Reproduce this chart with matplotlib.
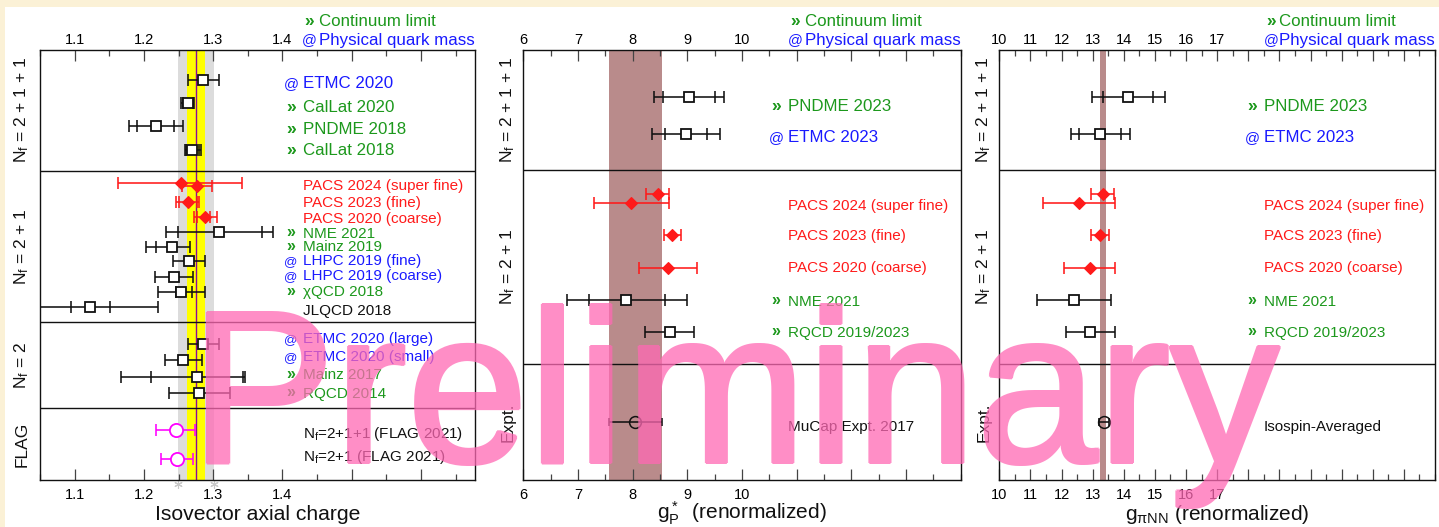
import numpy as np
import matplotlib
matplotlib.use("Agg")
import matplotlib.pyplot as plt
import matplotlib.transforms as mtransforms
from matplotlib.colors import to_rgb
from matplotlib.patches import Rectangle
from matplotlib.ticker import FixedLocator, FixedFormatter, MultipleLocator

plt.rcParams['font.family'] = ['Liberation Sans', 'DejaVu Sans']
plt.rcParams['mathtext.fontset'] = 'custom'
plt.rcParams['mathtext.rm'] = 'Liberation Sans'
plt.rcParams['mathtext.it'] = 'Liberation Sans:italic'
plt.rcParams['mathtext.sf'] = 'Liberation Sans'

# ---------------------------------------------------------------- data
# Isovector axial charge g_A
GA_VAL    = [1.286, 1.264, 1.218, 1.270, 1.253, 1.277, 1.264, 1.288, 1.309, 1.241,
             1.265, 1.243, 1.253, 1.122, 1.286, 1.257, 1.277, 1.280, 1.246, 1.248]
GA_LO     = [1.263, 1.254, 1.178, 1.259, 1.163, 1.255, 1.247, 1.273, 1.232, 1.203,
             1.242, 1.216, 1.220, 1.020, 1.263, 1.231, 1.167, 1.236, 1.218, 1.225]
GA_HI     = [1.308, 1.272, 1.257, 1.282, 1.342, 1.298, 1.280, 1.305, 1.387, 1.266,
             1.288, 1.271, 1.288, 1.221, 1.308, 1.284, 1.346, 1.324, 1.274, 1.271]
GA_STATLO = [None, 1.256, 1.190, 1.261, None, None, 1.251, 1.277, 1.249, 1.217,
             None, None, 1.246, 1.095, None, None, 1.210, None, None, None]
GA_STATHI = [None, 1.271, 1.243, 1.280, None, None, 1.277, 1.296, 1.370, None,
             None, None, 1.270, 1.151, None, None, 1.343, None, None, None]
GA_KIND   = ['lat'] * 4 + ['pacs'] * 4 + ['lat'] * 10 + ['flag'] * 2
GA_ROW    = [30.5, 53.8, 76.5, 100.5, 133.8, 136.2, 152.2, 167.2, 182.2, 197.2,
             211.5, 227.2, 242.8, 257.8, 294.5, 310.5, 327.2, 343.2, 380.5, 409.5]
GA_PDG = 1.2754

GA_LABELS = ["ETMC 2020", "CalLat 2020", "PNDME 2018", "CalLat 2018",
             "PACS 2024 (super fine)", "PACS 2023 (fine)", "PACS 2020 (coarse)",
             "NME 2021", "Mainz 2019", "LHPC 2019 (fine)", "LHPC 2019 (coarse)",
             "\u03c7QCD 2018", "JLQCD 2018",
             "ETMC 2020 (large)", "ETMC 2020 (small)", "Mainz 2017", "RQCD 2014",
             r"$\mathregular{N_f}$=2+1+1 (FLAG 2021)", r"$\mathregular{N_f}$=2+1 (FLAG 2021)"]
GA_TAGS   = ['@', '\u00bb', '\u00bb', '\u00bb', '', '', '', '\u00bb', '\u00bb', '@', '@',
             '\u00bb', '', '@', '@', '\u00bb', '\u00bb', '', '']
GA_LCOL   = ['blue', 'green', 'green', 'green', 'red', 'red', 'red', 'green', 'green',
             'blue', 'blue', 'green', 'black', 'blue', 'blue', 'green', 'green',
             'black', 'black']
GA_LROW   = [32.7, 56.5, 78.5, 99.5, 134.7, 152.2, 168.0, 183.0, 196.3, 210.5, 225.5,
             241.3, 260.3, 288.0, 306.3, 324.5, 343.0, 383.5, 406.5]
GA_SECTIONS = [r"$\mathregular{N_f}$ = 2 + 1 + 1", r"$\mathregular{N_f}$ = 2 + 1",
               r"$\mathregular{N_f}$ = 2", "FLAG"]
GA_BOUNDS = [0, 121.5, 272.5, 358.5, 430.5]

# Induced pseudoscalar coupling g_P* and pion-nucleon coupling g_piNN
NUC_ROW   = [47.2, 84.5, 144.8, 153.8, 185.5, 218.2, 250.5, 282.8, 372.2]
NUC_KIND  = ['lat', 'lat', 'pacs', 'pacs', 'pacs', 'pacs', 'lat', 'lat', 'expt']

GP_VAL    = [9.024, 8.982, 8.464, 7.978, 8.726, 8.646, 7.887, 8.677, 8.051]
GP_LO     = [8.391, 8.354, 8.239, 7.296, 8.573, 8.111, 6.803, 8.234, 7.569]
GP_HI     = [9.662, 9.602, 8.659, 8.659, 8.891, 9.175, 8.993, 9.120, 8.536]
GP_STATLO = [8.555, 8.586, None, None, None, None, 7.199, None, None]
GP_STATHI = [9.498, 9.365, None, None, None, None, 8.586, None, None]
GP_BAND   = (7.569, 8.544)

GPNN_VAL    = [14.135, 13.250, 13.333, 12.564, 13.250, 12.907, 12.394, 12.929, 13.356]
GPNN_LO     = [12.981, 12.298, 12.962, 11.391, 12.939, 12.083, 11.199, 12.128, 13.20]
GPNN_HI     = [15.311, 14.212, 13.686, 13.731, 13.526, 13.731, 13.603, 13.708, 13.51]
GPNN_STATLO = [13.333, 12.564, None, None, None, None, None, None, None]
GPNN_STATHI = [14.936, 13.923, None, None, None, None, None, None, None]
GPNN_BAND   = (13.228, 13.442)

NUC_LABELS = ["PNDME 2023", "ETMC 2023", "PACS 2024 (super fine)", "PACS 2023 (fine)",
              "PACS 2020 (coarse)", "NME 2021", "RQCD 2019/2023"]
NUC_TAGS   = ['\u00bb', '@', '', '', '', '\u00bb', '\u00bb']
NUC_LCOL   = ['green', 'blue', 'red', 'red', 'red', 'green', 'green']
NUC_LROW   = [55.5, 86.5, 155.0, 185.0, 217.2, 250.8, 282.0]
EXPT_LROW  = 376.3
GP_EXPT_LABEL = "MuCap Expt. 2017"
GPNN_EXPT_LABEL = "Isospin-Averaged"
NUC_SECTIONS = [r"$\mathregular{N_f}$ = 2 + 1 + 1", r"$\mathregular{N_f}$ = 2 + 1", "Expt."]
NUC_BOUNDS = [0, 120.5, 314.5, 430.5]

# ---------------------------------------------------------------- style
COLORS = {'green': '#1c981c', 'blue': '#1a1aff', 'red': '#ff1a1a',
          'black': '#111111', 'magenta': '#ff00ff'}
POINT_COLOR = {'lat': '#111111', 'pacs': COLORS['red'], 'flag': COLORS['magenta'],
               'expt': '#111111'}
WATERMARK = '#ff69b4'

W, H = 1439, 527
fig = plt.figure(figsize=(W / 100, H / 100), dpi=100)
fig.patch.set_facecolor('white')
CREAM = '#fbf1d6'
fig.add_artist(Rectangle((0, 1 - 7 / H), 1, 7 / H, transform=fig.transFigure,
                         facecolor=CREAM, edgecolor='none', zorder=-5))
fig.add_artist(Rectangle((0, 0), 5 / W, 1, transform=fig.transFigure,
                         facecolor=CREAM, edgecolor='none', zorder=-5))

TOP, BOTTOM = 49.5, 480.0


def make_axes(left, right):
    ax = fig.add_axes([left / W, 1 - BOTTOM / H, (right - left) / W, (BOTTOM - TOP) / H])
    ax.set_ylim(BOTTOM - TOP, 0)
    for s in ax.spines.values():
        s.set_linewidth(1.0)
        s.set_color('#111111')
    ax.tick_params(axis='y', left=False, right=False, labelleft=False)
    ax.tick_params(axis='x', which='both', direction='in', top=True, bottom=True,
                   labeltop=False, labelbottom=True, color='#444444', width=0.9,
                   labelsize=10.5, pad=5.5)
    ax.tick_params(axis='x', which='major', length=8)
    ax.tick_params(axis='x', which='minor', length=4)
    return ax


def set_ticks(ax, xlim, majors, nlabeled, minor_step):
    ax.set_xlim(*xlim)
    labels = [('%g' % m) if i < nlabeled else '' for i, m in enumerate(majors)]
    ax.xaxis.set_major_locator(FixedLocator(majors))
    ax.xaxis.set_major_formatter(FixedFormatter(labels))
    ax.xaxis.set_minor_locator(MultipleLocator(minor_step))
    sec = ax.secondary_xaxis('top')
    sec.xaxis.set_major_locator(FixedLocator(majors))
    sec.xaxis.set_major_formatter(FixedFormatter(labels))
    sec.tick_params(axis='x', which='both', length=0, labelsize=10.5, pad=1.5)
    sec.spines['top'].set_visible(False)


def draw_points(ax, vals, lo, hi, slo, shi, rows, kinds):
    for v, a, b, c, d, r, k in zip(vals, lo, hi, slo, shi, rows, kinds):
        col = POINT_COLOR[k]
        ax.hlines(r, a, b, colors=col, lw=1.15, zorder=4)
        caps = [a, b] + [e for e in (c, d) if e is not None]
        ax.plot(caps, [r] * len(caps), ls='none', marker='|', ms=9 if k != 'expt' else 6,
                mew=1.15, color=col, zorder=4)
        if k == 'lat':
            ax.plot(v, r, 's', ms=7.4, mfc='white', mec='#111111', mew=1.3, zorder=5)
        elif k == 'pacs':
            ax.plot(v, r, 'D', ms=6.4, mfc=col, mec=col, mew=0.8, zorder=5)
        elif k == 'flag':
            ax.plot(v, r, 'o', ms=9.5, mfc='white', mec=col, mew=1.3, zorder=5)
        else:
            ax.plot(v, r, 'o', ms=8.5, mfc='none', mec=col, mew=1.1, zorder=5)


def draw_sections(ax, bounds, names, label_x):
    for b in bounds[1:-1]:
        ax.axhline(b, color='#111111', lw=1.0, zorder=3)
    tr = mtransforms.blended_transform_factory(fig.transFigure, ax.transData)
    for name, b0, b1 in zip(names, bounds[:-1], bounds[1:]):
        ax.text(label_x / W, 0.5 * (b0 + b1), name, transform=tr, rotation=90,
                ha='center', va='center', fontsize=12.5, color='#111111')


def draw_labels(ax, texts, tags, cols, rows, tag_x, text_x, n_big=0):
    """Entry labels; the first n_big (top section) are set a size larger."""
    tr = mtransforms.blended_transform_factory(fig.transFigure, ax.transData)
    for i, (t, g, c, r) in enumerate(zip(texts, tags, cols, rows)):
        fs = 12.2 if i < n_big else 11.0
        base = r + 0.716 * fs * 100 / 72 / 2
        col = COLORS[c]
        ax.text(text_x / W, base, t, transform=tr, ha='left', va='baseline',
                fontsize=fs, color=col, zorder=6)
        if g == '@':
            ax.text(tag_x / W, base, g, transform=tr, ha='center', va='baseline',
                    fontsize=fs - 1.5, color=col, zorder=6)
        elif g:
            ax.text(tag_x / W, base - 0.5, g, transform=tr, ha='center', va='baseline',
                    fontsize=fs + 0.5, fontweight='bold', color=col, zorder=6)


def draw_header(tag_x, text_x):
    for base, tag, txt, c, tfs, tw in ((26.0, '\u00bb', 'Continuum limit', 'green', 12.5, 'bold'),
                                       (44.5, '@', 'Physical quark mass', 'blue', 10.5, 'normal')):
        fig.text(tag_x / W, 1 - base / H, tag, ha='center', va='baseline',
                 fontsize=tfs, fontweight=tw, color=COLORS[c])
        fig.text(text_x / W, 1 - base / H, txt, ha='left', va='baseline',
                 fontsize=12.2, color=COLORS[c])


def thicken(img, dpi, r=2):
    """Dilate the glyph coverage by r pixels for a heavier stroke weight."""
    alpha = np.pad(img[..., 3], r)
    grown = alpha.copy()
    for dy in range(-r, r + 1):
        for dx in range(-r, r + 1):
            if dx * dx + dy * dy <= r * r + 1:
                grown = np.maximum(grown, np.roll(np.roll(alpha, dy, axis=0), dx, axis=1))
    out = np.empty(grown.shape + (4,), dtype=float)
    out[..., :3] = to_rgb(WATERMARK)
    out[..., 3] = grown
    return out, -r, -r


# ---------------------------------------------------------------- panel 1: g_A
ax1 = make_axes(40, 475)
set_ticks(ax1, (1.05, 1.678), [1.1, 1.2, 1.3, 1.4, 1.5, 1.6], 4, 0.05)
ax1.axvspan(GA_PDG * 0.98, GA_PDG * 1.02, color='#dcdcdc', lw=0, zorder=0.5)
ax1.axvspan(GA_PDG * 0.99, GA_PDG * 1.01, color='#ffff00', lw=0, zorder=0.6)
ax1.axvline(GA_PDG, color='#8a0a9a', lw=1.0, zorder=0.7)
ax1.plot([GA_PDG * 0.98, GA_PDG * 1.02], [BOTTOM - TOP + 4] * 2, ls='none',
         marker=(6, 2, 0), ms=6, mew=0.8, color='#c8c8c8', clip_on=False)
draw_points(ax1, GA_VAL, GA_LO, GA_HI, GA_STATLO, GA_STATHI, GA_ROW, GA_KIND)
draw_sections(ax1, GA_BOUNDS, GA_SECTIONS, 22)
draw_labels(ax1, GA_LABELS, GA_TAGS, GA_LCOL, GA_LROW, 291, 303.3, n_big=4)
draw_header(309.5, 319.3)
fig.text((40 + 475) / 2 / W, 1 - 520 / H, "Isovector axial charge", ha='center',
         va='baseline', fontsize=15.2, color='#111111')

# ---------------------------------------------------------------- panel 2: g_P*
ax2 = make_axes(523.3, 960.7)
set_ticks(ax2, (6, 14), list(range(6, 14)), 5, 0.5)
ax2.axvspan(*GP_BAND, color='#b98b8b', lw=0, zorder=0.5)
draw_points(ax2, GP_VAL, GP_LO, GP_HI, GP_STATLO, GP_STATHI, NUC_ROW, NUC_KIND)
draw_sections(ax2, NUC_BOUNDS, NUC_SECTIONS, 508)
draw_labels(ax2, NUC_LABELS + [GP_EXPT_LABEL], NUC_TAGS + [''],
            NUC_LCOL + ['black'], NUC_LROW + [EXPT_LROW], 776, 788.3, n_big=2)
draw_header(795, 805)
fig.text((523.3 + 960.7) / 2 / W, 1 - 519.5 / H,
         r"$\mathregular{g_P^*}$  (renormalized)", ha='center', va='baseline',
         fontsize=15, color='#111111')

# ---------------------------------------------------------------- panel 3: g_piNN
ax3 = make_axes(999.3, 1435)
set_ticks(ax3, (10, 24), list(range(10, 24)), 8, 0.5)
ax3.axvspan(*GPNN_BAND, color='#b98b8b', lw=0, zorder=0.5)
draw_points(ax3, GPNN_VAL, GPNN_LO, GPNN_HI, GPNN_STATLO, GPNN_STATHI, NUC_ROW, NUC_KIND)
draw_sections(ax3, NUC_BOUNDS, NUC_SECTIONS, 984)
draw_labels(ax3, NUC_LABELS + [GPNN_EXPT_LABEL], NUC_TAGS + [''],
            NUC_LCOL + ['black'], NUC_LROW + [EXPT_LROW], 1252, 1264, n_big=2)
draw_header(1271, 1279.3)
fig.text((999.3 + 1435) / 2 / W, 1 - 519.5 / H,
         r"$\mathregular{g_{\pi NN}}$ (renormalized)", ha='center', va='baseline',
         fontsize=15, color='#111111')

# ---------------------------------------------------------------- watermark
wm = fig.text(189 / W, 1 - 462 / H, "Preliminary", ha='left', va='baseline',
              fontsize=157, color=WATERMARK, alpha=0.75, zorder=20)
wm.set_agg_filter(thicken)

fig.savefig("out.png", dpi=100, facecolor=fig.get_facecolor())
